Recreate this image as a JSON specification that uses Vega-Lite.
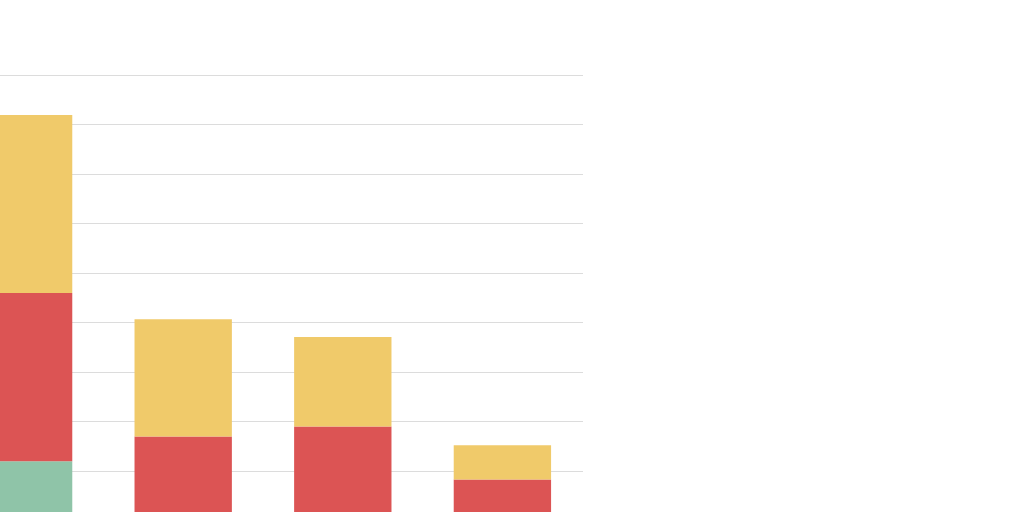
{
  "$schema": "https://vega.github.io/schema/vega-lite/v6.json",
  "autosize": {"type": "none"},
  "width": 640,
  "height": 445,
  "padding": {"left": -57, "top": 75, "right": 0, "bottom": 0},
  "background": "white",
  "config": {"view": {"stroke": null}},
  "data": {
    "values": [
      {"group": "A", "series": "green", "rank": 1, "value": 11.9},
      {"group": "A", "series": "red", "rank": 2, "value": 34.0},
      {"group": "A", "series": "yellow", "rank": 3, "value": 36.0},
      {"group": "B", "series": "green", "rank": 1, "value": 0},
      {"group": "B", "series": "red", "rank": 2, "value": 16.9},
      {"group": "B", "series": "yellow", "rank": 3, "value": 23.7},
      {"group": "C", "series": "green", "rank": 1, "value": 0},
      {"group": "C", "series": "red", "rank": 2, "value": 18.9},
      {"group": "C", "series": "yellow", "rank": 3, "value": 18.1},
      {"group": "D", "series": "green", "rank": 1, "value": 0},
      {"group": "D", "series": "red", "rank": 2, "value": 8.2},
      {"group": "D", "series": "yellow", "rank": 3, "value": 6.9}
    ]
  },
  "mark": {"type": "bar"},
  "encoding": {
    "x": {
      "field": "group",
      "type": "nominal",
      "scale": {"paddingInner": 0.39, "paddingOuter": 0.2},
      "axis": null
    },
    "y": {
      "field": "value",
      "type": "quantitative",
      "stack": "zero",
      "scale": {"domain": [0, 90], "nice": false},
      "axis": {
        "values": [0, 10, 20, 30, 40, 50, 60, 70, 80, 90],
        "grid": true,
        "gridColor": "#dcdcdc",
        "gridWidth": 1,
        "labels": false,
        "ticks": false,
        "domain": false,
        "title": null
      }
    },
    "color": {
      "field": "series",
      "type": "nominal",
      "scale": {
        "domain": ["green", "red", "yellow"],
        "range": ["#8fc4a8", "#dc5454", "#f0ca6a"]
      },
      "legend": null
    },
    "order": {"field": "rank", "type": "quantitative"}
  }
}
